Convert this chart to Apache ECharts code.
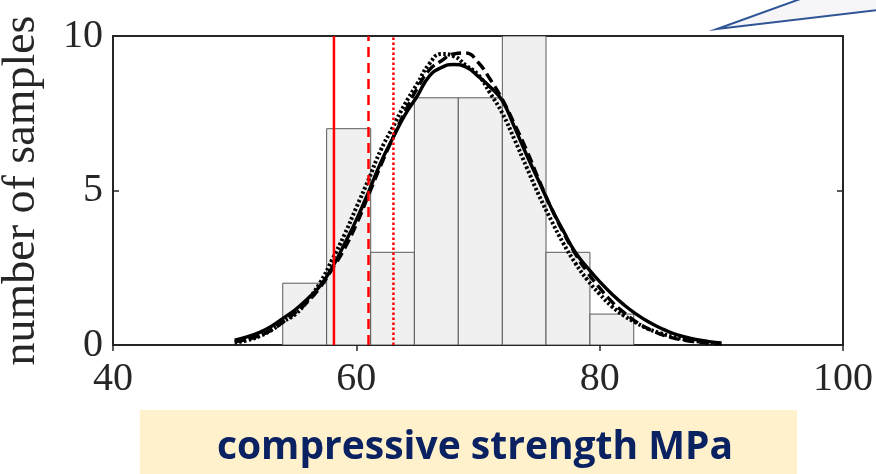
<!DOCTYPE html>
<html>
<head>
<meta charset="utf-8">
<script src="https://cdn.jsdelivr.net/npm/echarts@6/dist/echarts.min.js"></script>
<style>html,body{margin:0;padding:0;background:#fff;}#chart{width:876px;height:474px;}</style>
</head>
<body>
<div id="chart"></div>
<script>
// Histogram bin edges (MPa) and counts
const binEdges = [53.95, 57.56, 61.18, 64.77, 68.38, 72.0, 75.59, 79.2, 82.8];
const binCounts = [2, 7, 3, 8, 8, 10, 3, 1];

// Fitted curves: x positions and values
const curveX = [50,51,52,53,54,55,56,57,58,59,60,61,62,63,64,65,66,67,68,69,70,71,72,73,74,75,76,77,78,79,80,81,82,83,84,85,86,87,88,89,90];
const solidY = [0.16,0.26,0.40,0.60,0.87,1.15,1.5,1.9,2.5,3.25,4.05,4.95,5.9,6.7,7.45,8.05,8.7,8.98,9.08,9.0,8.7,8.35,7.9,7.05,6.15,5.3,4.45,3.7,3.0,2.5,2.05,1.65,1.3,1.0,0.75,0.55,0.38,0.26,0.17,0.11,0.07];
const dashedY = [0.10,0.18,0.30,0.48,0.75,1.05,1.4,1.85,2.45,3.1,3.9,4.85,5.8,6.7,7.55,8.3,8.9,9.2,9.42,9.45,9.15,8.6,7.95,7.15,6.3,5.35,4.45,3.65,2.95,2.35,1.85,1.4,1.05,0.75,0.52,0.35,0.23,0.15,0.1,0.06,0.04];
const dottedY = [0.08,0.15,0.28,0.48,0.76,1.0,1.45,2.0,2.75,3.55,4.45,5.35,6.3,7.05,7.8,8.45,9.1,9.42,9.35,9.05,8.75,8.15,7.5,6.65,5.75,4.85,4.05,3.3,2.65,2.1,1.65,1.25,0.95,0.72,0.52,0.38,0.27,0.18,0.12,0.08,0.05];

// Red vertical reference lines (MPa)
const refSolid = 58.16;
const refDashed = 61.0;
const refDotted = 63.05;

// Axis ticks
const xTicks = [40, 60, 80, 100];
const yTicks = [0, 5, 10];

const binData = binCounts.map((c, i) => [binEdges[i], binEdges[i + 1], c]);
const pairs = ys => curveX.map((x, i) => [x, ys[i]]);
const vline = x => [[x, yTicks[0]], [x, yTicks[yTicks.length - 1]]];

const chart = echarts.init(document.getElementById('chart'));
const axisColor = '#262626';
const serif = '"Liberation Serif", serif';

chart.setOption({
  animation: false,
  backgroundColor: '#ffffff',
  grid: { left: 113, right: 33, top: 36, bottom: 129, show: true, borderColor: axisColor, borderWidth: 2,
          backgroundColor: 'transparent', containLabel: false, outerBoundsMode: 'none' },
  xAxis: [{
    type: 'value', min: xTicks[0], max: xTicks[xTicks.length - 1], interval: 20,
    axisLine: { show: true, lineStyle: { color: axisColor, width: 2 } },
    axisTick: { show: true, inside: true, length: 6, lineStyle: { color: axisColor, width: 1.5 } },
    axisLabel: { color: axisColor, fontFamily: serif, fontSize: 40, margin: 14 },
    splitLine: { show: false }
  }, {
    type: 'value', position: 'top', min: xTicks[0], max: xTicks[xTicks.length - 1], interval: 20,
    axisLine: { show: true, lineStyle: { color: axisColor, width: 2 } },
    axisTick: { show: true, inside: true, length: 6, lineStyle: { color: axisColor, width: 1.5 } },
    axisLabel: { show: false }, splitLine: { show: false }
  }],
  yAxis: [{
    type: 'value', min: yTicks[0], max: yTicks[yTicks.length - 1], interval: 5,
    name: 'number of samples', nameLocation: 'middle', nameGap: 68, nameRotate: 90,
    nameTextStyle: { color: axisColor, fontFamily: serif, fontSize: 46 },
    axisLine: { show: true, lineStyle: { color: axisColor, width: 2 } },
    axisTick: { show: true, inside: true, length: 6, lineStyle: { color: axisColor, width: 1.5 } },
    axisLabel: { color: axisColor, fontFamily: serif, fontSize: 40, margin: 10 },
    splitLine: { show: false }
  }, {
    type: 'value', position: 'right', min: yTicks[0], max: yTicks[yTicks.length - 1], interval: 5,
    axisLine: { show: true, lineStyle: { color: axisColor, width: 2 } },
    axisTick: { show: true, inside: true, length: 6, lineStyle: { color: axisColor, width: 1.5 } },
    axisLabel: { show: false }, splitLine: { show: false }
  }],
  series: [
    {
      type: 'custom', name: 'histogram', clip: true, z: 1,
      data: binData,
      encode: { x: [0, 1], y: 2 },
      renderItem: function (params, api) {
        const p0 = api.coord([api.value(0), 0]);
        const p1 = api.coord([api.value(1), api.value(2)]);
        return {
          type: 'rect',
          shape: { x: p0[0], y: p1[1], width: p1[0] - p0[0], height: p0[1] - p1[1] },
          style: { fill: '#f0f0f0', stroke: '#5a5a5a', lineWidth: 1 }
        };
      }
    },
    { type: 'line', name: 'dotted fit', data: pairs(dottedY), smooth: true, showSymbol: false, z: 3,
      lineStyle: { color: '#000', width: 4, type: [2.5, 2.2] } },
    { type: 'line', name: 'dashed fit', data: pairs(dashedY), smooth: true, showSymbol: false, z: 3,
      lineStyle: { color: '#000', width: 3.4, type: [10, 5] } },
    { type: 'line', name: 'solid fit', data: pairs(solidY), smooth: true, showSymbol: false, z: 4,
      lineStyle: { color: '#000', width: 3.4 } },
    { type: 'line', name: 'ref1', data: vline(refSolid), showSymbol: false, z: 5,
      lineStyle: { color: '#ff0000', width: 2.5 } },
    { type: 'line', name: 'ref2', data: vline(refDashed), showSymbol: false, z: 5,
      lineStyle: { color: '#ff0000', width: 2.5, type: [10, 6] } },
    { type: 'line', name: 'ref3', data: vline(refDotted), showSymbol: false, z: 5,
      lineStyle: { color: '#ff0000', width: 2.5, type: [2.5, 2.5] } }
  ],
  graphic: [
    { type: 'polygon', shape: { points: [[717, 29], [803, -2], [878, -2], [878, 10]] },
      style: { fill: '#f6f6f8', stroke: 'none' }, z: 10 },
    { type: 'polyline', shape: { points: [[803, -2], [717, 29], [878, 10]] },
      style: { stroke: '#2f5597', lineWidth: 2, fill: 'none' }, z: 11 },
    { type: 'rect', shape: { x: 140, y: 410, width: 657, height: 70 },
      style: { fill: '#fff1cc' }, z: 10 },
    { type: 'text', x: 475, y: 448, z: 11,
      style: { text: 'compressive strength MPa', fill: '#0a2261', font: 'bold 39px "Open Sans"', align: 'center', verticalAlign: 'middle' } }
  ]
});
</script>
</body>
</html>
